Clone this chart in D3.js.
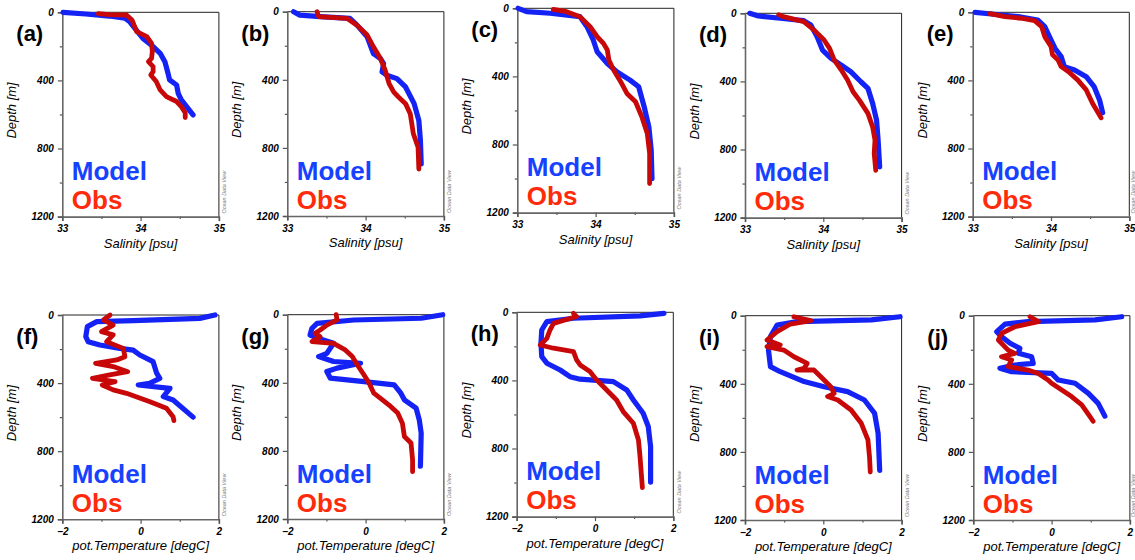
<!DOCTYPE html>
<html><head><meta charset="utf-8">
<script src="https://cdn.jsdelivr.net/npm/d3@7"></script>
<style>
html,body{margin:0;padding:0;background:#fff;}
svg{display:block;font-family:"Liberation Sans",Arial,Helvetica,sans-serif;}
</style></head>
<body><svg id="chart" width="1135" height="560"></svg>
<script>
// ---------- data: [value, depth(m)] ----------
const panelLabels = ["(a)","(b)","(c)","(d)","(e)","(f)","(g)","(h)","(i)","(j)"];
const depthTicks = [0,400,800,1200];
const depthMinor = [200,600,1000];
const salTicks = [33,34,35];
const salMinor = [33.5,34.5];
const tempTicks = [-2,0,2];
const tempMinor = [-1,1];
const salTitle = "Salinity [psu]";
const tempTitle = "pot.Temperature [degC]";
const depthTitle = "Depth [m]";
const legendNames = ["Model","Obs"];

const salA_model = [[33.01,0],[33.3,10],[33.6,22],[33.8,35],[33.86,55],[33.91,84],[34.03,153],[34.16,201],[34.25,241],[34.31,290],[34.35,358],[34.37,397],[34.46,427],[34.48,476],[34.52,515],[34.67,603]];
const salA_obs = [[33.46,8],[33.6,14],[33.82,16],[33.89,45],[33.95,113],[34.08,143],[34.14,182],[34.15,230],[34.14,270],[34.10,290],[34.16,319],[34.16,348],[34.13,368],[34.20,407],[34.25,456],[34.33,495],[34.46,524],[34.52,554],[34.57,590],[34.57,618]];
const salB_model = [[33.08,0],[33.16,20],[33.42,29],[33.80,39],[33.89,79],[34.02,147],[34.10,246],[34.19,275],[34.23,305],[34.21,354],[34.27,373],[34.40,393],[34.51,442],[34.62,540],[34.68,639],[34.70,756],[34.71,894]];
const salB_obs = [[33.38,0],[33.40,29],[33.76,39],[33.89,79],[34.02,137],[34.10,206],[34.19,275],[34.25,344],[34.30,422],[34.36,472],[34.42,501],[34.51,540],[34.57,599],[34.61,717],[34.67,796],[34.68,924]];
const salC_model = [[33.01,0],[33.12,20],[33.42,29],[33.80,49],[33.89,108],[33.97,186],[34.02,255],[34.15,324],[34.27,373],[34.44,422],[34.55,461],[34.62,578],[34.68,696],[34.71,833],[34.72,1000]];
const salC_obs = [[33.46,6],[33.63,20],[33.80,49],[33.93,108],[34.02,167],[34.10,206],[34.15,245],[34.17,304],[34.23,363],[34.32,431],[34.40,500],[34.51,549],[34.59,637],[34.66,735],[34.69,853],[34.69,1029]];
const salD_model = [[33.06,0],[33.17,16],[33.45,29],[33.75,43],[33.84,69],[33.92,137],[33.99,216],[34.10,265],[34.23,304],[34.35,343],[34.48,402],[34.57,441],[34.63,529],[34.68,627],[34.70,745],[34.72,902]];
const salD_obs = [[33.43,8],[33.49,20],[33.75,49],[33.88,98],[34.01,157],[34.08,206],[34.14,275],[34.23,333],[34.31,392],[34.38,461],[34.46,510],[34.57,588],[34.63,667],[34.66,745],[34.65,824],[34.67,922]];
const salE_model = [[33.03,0],[33.24,10],[33.58,25],[33.83,45],[33.92,84],[33.98,143],[34.05,211],[34.13,260],[34.17,319],[34.30,339],[34.45,378],[34.55,436],[34.62,515],[34.66,590]];
const salE_obs = [[33.22,8],[33.41,25],[33.62,35],[33.79,49],[33.88,84],[33.92,143],[34.00,201],[34.02,250],[34.09,280],[34.13,319],[34.22,348],[34.34,397],[34.45,456],[34.53,534],[34.64,620]];

const tmpF_model = [[1.90,0],[1.51,20],[-0.19,33],[-1.12,39],[-1.36,68],[-1.40,127],[-1.34,157],[-1.04,176],[-0.53,196],[-0.19,206],[-0.02,235],[0.32,274],[0.41,342],[0.49,372],[0.23,401],[-0.06,411],[0.75,431],[0.58,479],[0.83,499],[1.34,600]];
const tmpF_obs = [[-0.78,0],[-0.95,29],[-0.70,59],[-1.00,98],[-0.70,117],[-0.87,157],[-0.44,196],[-0.40,245],[-0.61,264],[-1.15,284],[-0.70,303],[-0.33,333],[-0.79,352],[-1.23,372],[-0.65,391],[-0.98,411],[-0.70,440],[-0.36,460],[0.24,509],[0.66,548],[0.83,597],[0.85,620]];
const tmpG_model = [[1.97,0],[1.42,21],[-0.30,31],[-1.24,51],[-1.37,80],[-1.42,119],[-1.20,139],[-0.82,168],[-0.99,227],[-1.20,246],[-0.82,275],[-0.13,285],[-0.73,314],[-0.99,334],[-0.90,373],[-0.04,393],[0.73,412],[0.90,461],[0.99,500],[1.29,549],[1.37,617],[1.42,695],[1.40,890]];
const tmpG_obs = [[-0.75,0],[-0.73,31],[-0.99,61],[-1.16,90],[-1.29,109],[-1.16,129],[-1.37,158],[-0.82,168],[-0.52,207],[-0.34,246],[-0.21,295],[-0.04,354],[0.09,402],[0.21,461],[0.43,500],[0.64,539],[0.82,578],[0.94,637],[0.99,715],[1.16,754],[1.20,852],[1.20,922]];
const tmpH_model = [[1.76,6],[1.15,21],[-0.55,35],[-1.23,55],[-1.36,104],[-1.38,182],[-1.36,260],[-1.23,299],[-0.89,339],[-0.64,378],[-0.38,393],[0.47,407],[0.81,456],[0.98,515],[1.23,593],[1.36,671],[1.42,789],[1.42,997]];
const tmpH_obs = [[-0.55,6],[-0.47,25],[-1.06,65],[-1.15,104],[-1.23,153],[-1.40,192],[-1.06,211],[-0.55,231],[-0.47,280],[-0.38,309],[-0.13,348],[0.04,397],[0.21,436],[0.55,515],[0.72,583],[0.98,652],[1.11,750],[1.15,847],[1.21,1030]];
const tmpI_model = [[1.96,6],[1.23,25],[-0.67,35],[-1.18,55],[-1.35,123],[-1.40,202],[-1.35,299],[-1.10,329],[-0.49,387],[0.02,417],[0.62,446],[1.05,495],[1.31,573],[1.40,691],[1.44,908]];
const tmpI_obs = [[-0.75,6],[-0.32,29],[-0.84,49],[-1.18,94],[-1.44,143],[-1.10,172],[-1.44,182],[-1.01,202],[-0.75,241],[-0.41,280],[-0.49,309],[-0.67,319],[-0.24,319],[0.02,378],[0.19,417],[0.28,456],[0.11,475],[0.37,495],[0.71,554],[0.97,632],[1.14,730],[1.18,828],[1.20,918]];
const tmpJ_model = [[1.79,6],[1.11,25],[-0.60,35],[-1.19,49],[-1.40,94],[-1.28,123],[-1.06,162],[-0.81,192],[-0.85,221],[-0.51,241],[-0.47,280],[-0.94,290],[-1.32,309],[-1.02,329],[0.00,339],[0.17,378],[0.60,397],[0.94,456],[1.19,515],[1.36,590]];
const tmpJ_obs = [[-0.55,6],[-0.34,35],[-0.94,65],[-1.28,104],[-1.36,143],[-1.11,202],[-0.94,221],[-1.28,241],[-1.02,260],[-1.11,299],[-0.60,319],[-0.34,339],[-0.09,378],[0.00,397],[0.26,436],[0.51,475],[0.77,524],[0.98,593],[1.06,620]];

const modelSeries = [salA_model,salB_model,salC_model,salD_model,salE_model,tmpF_model,tmpG_model,tmpH_model,tmpI_model,tmpJ_model];
const obsSeries = [salA_obs,salB_obs,salC_obs,salD_obs,salE_obs,tmpF_obs,tmpG_obs,tmpH_obs,tmpI_obs,tmpJ_obs];

// ---------- layout ----------
const panelLeft = [62.3,287.3,517.3,745,972.7, 62.3,287.3,516.7,745,973.3];
const panelTop  = [12.3,11.7,8.3,13.3,12.3, 315,314.7,312.3,315.7,315.7];
const PW = 156.6, PH = 204.3;
const blueLine = "#1422f5", redLine = "#c80808";
const blueText = "#1541ff", redText = "#ff2a0a";

const svg = d3.select("#chart");

panelLabels.forEach((lab,i)=>{
  const isSal = i < 5;
  const g = svg.append("g").attr("transform",`translate(${panelLeft[i]},${panelTop[i]})`);
  const x = d3.scaleLinear().domain(isSal ? [33,35] : [-2,2]).range([0,PW]);
  const y = d3.scaleLinear().domain([0,1200]).range([0,PH]);

  // frame top/right
  g.append("path").attr("d",`M0,0H${PW}V${PH}`).attr("fill","none").attr("stroke","#222").attr("stroke-width",1);

  // minor ticks
  const minorY = g.append("g").call(d3.axisLeft(y).tickValues(depthMinor).tickSize(2.5).tickFormat(""));
  minorY.select(".domain").remove();
  const minorX = g.append("g").attr("transform",`translate(0,${PH})`)
     .call(d3.axisBottom(x).tickValues(isSal?salMinor:tempMinor).tickSize(2.5).tickFormat(""));
  minorX.select(".domain").remove();

  const ay = g.append("g").call(d3.axisLeft(y).tickValues(depthTicks).tickSize(4.5).tickPadding(4).tickFormat(d3.format("d")));
  const ax = g.append("g").attr("transform",`translate(0,${PH})`)
     .call(d3.axisBottom(x).tickValues(isSal?salTicks:tempTicks).tickSize(4.5).tickPadding(4).tickFormat(d3.format("d")));
  [ay,ax,minorX,minorY].forEach(a=>{
    a.selectAll(".domain").attr("stroke","#666").attr("stroke-width",1.6);
    a.selectAll(".tick line").attr("stroke","#555").attr("stroke-width",1.2);
    a.selectAll("text").attr("fill","#000").style("font-size","10px").style("font-weight","bold").style("font-style","italic")
      .style("font-family","'Liberation Sans',Arial,sans-serif");
  });

  // lines
  const line = d3.line().x(d=>x(d[0])).y(d=>y(d[1]));
  g.append("path").datum(modelSeries[i]).attr("d",line).attr("fill","none")
    .attr("stroke",blueLine).attr("stroke-width",5.2).attr("stroke-linejoin","round").attr("stroke-linecap","round");
  g.append("path").datum(obsSeries[i]).attr("d",line).attr("fill","none")
    .attr("stroke",redLine).attr("stroke-width",4.8).attr("stroke-linejoin","round").attr("stroke-linecap","round");

  // panel label
  g.append("text").attr("x",-46).attr("y",29).text(lab)
    .style("font-size","22px").style("font-weight","bold").attr("fill","#000");

  // legend text
  g.append("text").attr("x",9.5).attr("y",168).text(legendNames[0])
    .style("font-size","26px").style("font-weight","bold").attr("fill",blueText);
  g.append("text").attr("x",9.5).attr("y",197).text(legendNames[1])
    .style("font-size","26px").style("font-weight","bold").attr("fill",redText);

  // axis titles
  g.append("text").attr("transform",`translate(-46,${PH/2-4}) rotate(-90)`).attr("text-anchor","middle")
    .text(depthTitle).style("font-size","13px").style("font-style","italic").attr("fill","#000");
  g.append("text").attr("x",PW/2).attr("y",PH+31).attr("text-anchor","middle")
    .text(isSal?salTitle:tempTitle).style("font-size","13px").style("font-style","italic").attr("fill","#000");

  // watermark
  const wx = Math.min(PW+7.5, 1134.5 - panelLeft[i]);
  g.append("text").attr("transform",`translate(${wx},${PH-3}) rotate(-90)`).attr("text-anchor","start")
    .text("Ocean Data View").style("font-size","5.5px").style("font-style","italic").attr("fill","#777");
});
</script></body></html>
